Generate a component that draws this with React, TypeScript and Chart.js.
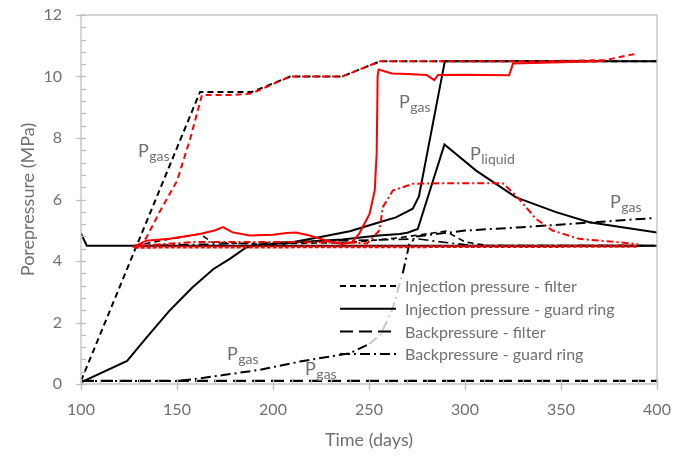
import React, { useEffect, useRef } from 'react';
import { Chart, registerables } from 'chart.js';
Chart.register(...registerables);

type P = [number, number];

// ---------- data (days, MPa) ----------
const injFilterGas: P[] = [[100, 0.1], [162, 9.5], [189, 9.5], [209, 10], [236, 10], [256, 10.5], [400, 10.5]];
const injFilterLiq: P[] = [[128, 4.5], [145, 4.7], [162, 4.88], [168, 4.62], [190, 4.55], [240, 4.6], [265, 4.75], [290, 4.97], [300, 4.62], [312, 4.5], [400, 4.5]];
const injGuardFlat: P[] = [[100, 4.9], [103, 4.5], [400, 4.5]];
const injGuardLiq: P[] = [[100, 0.05], [124, 0.75], [134, 1.5], [146, 2.38], [158, 3.14], [169, 3.74], [177.5, 4.07], [186, 4.44], [193, 4.52], [210, 4.6], [236, 4.7], [255, 4.83], [266, 4.88], [270, 4.92], [275.4, 5.04], [289.3, 7.79], [305.8, 6.94], [326.6, 6.07], [347.4, 5.59], [364.7, 5.26], [400, 4.93]];
const injGuardGas: P[] = [[205, 4.55], [222, 4.75], [240, 4.97], [255, 5.25], [264, 5.42], [272.8, 5.7], [276, 6.1], [289.5, 10.5], [400, 10.5]];
const bpFilter: P[] = [[100, 0.1], [400, 0.1]];
const bpGuardGas: P[] = [[100, 0.1], [150, 0.1], [158, 0.15], [175, 0.3], [193, 0.46], [214, 0.73], [240, 1.0], [250, 1.3], [256, 1.6], [262, 2.4], [267.6, 3.6], [269, 4.0], [271, 4.55], [275, 4.8], [300, 4.99], [330, 5.1], [365, 5.25], [399, 5.4]];
const bpGuardLiq: P[] = [[130, 4.5], [170, 4.55], [210, 4.62], [250, 4.68], [275, 4.72], [290, 4.6], [305, 4.5], [400, 4.5]];

const expInjFilter: P[] = [[130, 4.45], [134, 4.75], [141, 5.6], [150, 6.6], [157, 8.0], [163, 9.4], [180, 9.4], [189, 9.45], [209, 10], [236, 10], [256, 10.5], [300, 10.5], [340, 10.5], [373, 10.53], [382, 10.65], [390, 10.75]];
const expInjGuard: P[] = [[127, 4.44], [134, 4.66], [146, 4.72], [162, 4.88], [170, 5.0], [174, 5.1], [179, 4.93], [188, 4.83], [200, 4.85], [207, 4.91], [212, 4.93], [219, 4.83], [228, 4.66], [236, 4.55], [241, 4.6], [245, 4.9], [250.3, 5.53], [253, 6.3], [254, 7.5], [254.5, 10.0], [255, 10.23], [262, 10.1], [270, 10.08], [280, 10.05], [284, 9.88], [286, 10.05], [300, 10.06], [310, 10.05], [323, 10.04], [325, 10.42], [340, 10.45], [360, 10.48], [372, 10.5]];
const expBpGuard: P[] = [[130, 4.5], [160, 4.62], [200, 4.62], [240, 4.6], [249, 4.57], [255.5, 5.0], [257.2, 5.75], [262.4, 6.29], [272.8, 6.51], [290, 6.53], [319.6, 6.53], [326.6, 6.13], [337, 5.37], [345.6, 4.99], [359.5, 4.72], [376.8, 4.63], [390, 4.55]];
const expBpFilter: P[] = [[128, 4.45], [390, 4.48]];

const legendLabels = ['Injection pressure - filter', 'Injection pressure - guard ring', 'Backpressure - filter', 'Backpressure - guard ring'];
const xTickLabels = [100, 150, 200, 250, 300, 350, 400];
const yTickLabels = [0, 2, 4, 6, 8, 10, 12];

// annotation labels: [main, subscript, day, MPa]
const annotations: [string, string, number, number][] = [
  ['P', 'gas', 129.7, 7.38],
  ['P', 'gas', 265.6, 8.98],
  ['P', 'liquid', 302.6, 7.28],
  ['P', 'gas', 375.5, 5.72],
  ['P', 'gas', 176, 0.78],
  ['P', 'gas', 216.7, 0.29],
];

// ---------- styles ----------
const BLACK = '#000000';
const RED = '#ff0000';
const GREY_TEXT = '#707070';
const AXIS = '#bfbfbf';
const FONT = 'Lato';
const DASH_SHORT = [6, 4];
const DASH_LONG = [13, 6];
const DASH_DOT = [10, 4, 2, 4];
const legendDashes = [DASH_SHORT, [], DASH_LONG, DASH_DOT];

const toXY = (d: P[]) => d.map(([x, y]) => ({ x, y }));

function ds(data: P[], color: string, dash: number[], width = 2, extra: any = {}) {
  return {
    data: toXY(data),
    borderColor: color,
    borderWidth: width,
    borderDash: dash,
    pointRadius: 0,
    fill: false,
    tension: 0,
    ...extra,
  };
}

const overlayPlugin = {
  id: 'overlay',
  afterDraw(chart: any) {
    const { ctx, chartArea: a, scales } = chart;
    const xs = scales.x;
    const ys = scales.y;
    ctx.save();
    // frame
    ctx.strokeStyle = AXIS;
    ctx.lineWidth = 1.3;
    ctx.setLineDash([]);
    ctx.strokeRect(a.left, a.top, a.right - a.left, a.bottom - a.top);
    // y ticks
    for (let i = 0; i <= 30; i++) {
      const v = i * 0.4;
      const py = Math.round(ys.getPixelForValue(v)) + 0.5;
      const major = i % 5 === 0;
      ctx.beginPath();
      ctx.moveTo(major ? a.left - 5 : a.left, py);
      ctx.lineTo(a.left + 5, py);
      ctx.stroke();
    }
    // x ticks
    for (let v = 100; v <= 400; v += 10) {
      const px = Math.round(xs.getPixelForValue(v)) + 0.5;
      const major = v % 50 === 0;
      ctx.beginPath();
      ctx.moveTo(px, major ? a.bottom + 6 : a.bottom);
      ctx.lineTo(px, a.bottom - 5);
      ctx.stroke();
    }
    // legend
    const lx0 = a.left + 259;
    const lx1 = lx0 + 56;
    const ly0 = a.top + 271;
    const rowH = 22.7;
    ctx.font = `16px ${FONT}`;
    ctx.textBaseline = 'middle';
    ctx.textAlign = 'left';
    legendLabels.forEach((t, i) => {
      const yy = ly0 + i * rowH;
      ctx.strokeStyle = BLACK;
      ctx.lineWidth = 2;
      ctx.setLineDash(legendDashes[i]);
      ctx.beginPath();
      ctx.moveTo(lx0, yy);
      ctx.lineTo(lx1, yy);
      ctx.stroke();
      ctx.fillStyle = GREY_TEXT;
      ctx.fillText(t, lx1 + 9, yy + 1);
    });
    // annotations
    ctx.setLineDash([]);
    ctx.textBaseline = 'alphabetic';
    annotations.forEach(([m, s, dx, dy]) => {
      const px = xs.getPixelForValue(dx);
      const py = ys.getPixelForValue(dy);
      ctx.fillStyle = GREY_TEXT;
      ctx.font = `18px ${FONT}`;
      ctx.fillText(m, px, py);
      const w = ctx.measureText(m).width;
      ctx.font = `14px ${FONT}`;
      ctx.fillText(s, px + w + 0.5, py + 4);
    });
    ctx.restore();
  },
};

export default function App() {
  const ref = useRef<HTMLCanvasElement | null>(null);
  useEffect(() => {
    if (!ref.current) return;
    const datasets: any[] = [
      ds(expInjGuard, RED, [], 2),
      ds(expInjFilter, RED, DASH_SHORT, 2),
      ds(expBpGuard, RED, [7, 3, 2, 3], 2),
      ds(expBpFilter, RED, [4, 2], 3),
      ds(injFilterGas, BLACK, DASH_SHORT, 2),
      ds(injFilterLiq, BLACK, DASH_SHORT, 1.6),
      ds(injGuardGas, BLACK, [], 2),
      ds(injGuardLiq, BLACK, [], 2),
      ds(injGuardFlat, BLACK, [], 2),
      ds(bpGuardLiq, BLACK, DASH_DOT, 1.6),
      ds(bpGuardGas, BLACK, DASH_DOT, 2, {
        segment: {
          borderColor: (c: any) => (c.p0.parsed.x >= 245 && c.p1.parsed.x <= 268 ? '#c8c8c8' : BLACK),
        },
      }),
      ds(bpFilter, BLACK, DASH_LONG, 2.2),
    ];
    const chart = new Chart(ref.current, {
      type: 'line',
      data: { datasets },
      options: {
        animation: false,
        responsive: false,
        devicePixelRatio: 1,
        layout: { padding: { left: 0, top: 15, right: 35, bottom: 0 } },
        plugins: { legend: { display: false }, tooltip: { enabled: false } },
        scales: {
          x: {
            type: 'linear',
            min: 100,
            max: 400,
            afterFit: (s: any) => { s.height = 74; s.paddingLeft = 0; s.paddingRight = 0; },
            afterBuildTicks: (s: any) => { s.ticks = xTickLabels.map((v) => ({ value: v })); },
            grid: { display: false, drawTicks: false },
            border: { display: false },
            ticks: { color: GREY_TEXT, font: { family: FONT, size: 16 }, padding: 16, maxRotation: 0 },
            title: { display: true, text: 'Time (days)', color: GREY_TEXT, font: { family: FONT, size: 18 }, padding: { top: 0, bottom: 7 } },
          },
          y: {
            type: 'linear',
            min: 0,
            max: 12,
            afterFit: (s: any) => { s.width = 81; s.paddingTop = 0; s.paddingBottom = 0; },
            afterBuildTicks: (s: any) => { s.ticks = yTickLabels.map((v) => ({ value: v })); },
            grid: { display: false, drawTicks: false },
            border: { display: false },
            ticks: { color: GREY_TEXT, font: { family: FONT, size: 16 }, padding: 19 },
            title: { display: true, text: 'Porepressure (MPa)', color: GREY_TEXT, font: { family: FONT, size: 18 }, padding: { top: 17, bottom: 0 } },
          },
        },
      },
      plugins: [overlayPlugin],
    });
    return () => chart.destroy();
  }, []);
  return (
    <div style={{ position: 'fixed', left: 0, top: 0, width: 692, height: 458, background: '#fff' }}>
      <canvas ref={ref} width={692} height={458} style={{ width: 692, height: 458 }} />
    </div>
  );
}
